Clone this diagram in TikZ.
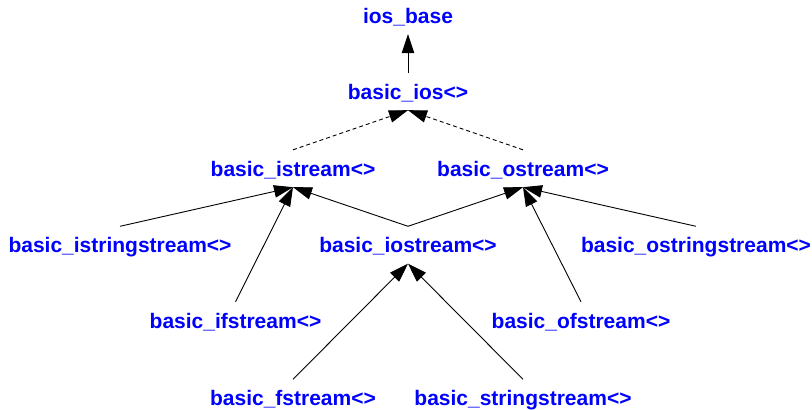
\documentclass[tikz,border=0pt]{standalone}
\usepackage{fontspec}
\setmainfont{Liberation Sans}
\usetikzlibrary{arrows.meta}
\definecolor{clsblue}{RGB}{0,0,255}
\begin{document}
\begin{tikzpicture}[x=1pt,y=-1pt,
  cls/.style={font=\fontsize{21}{25}\selectfont\bfseries, text=clsblue, anchor=base,
    text height=15pt, text depth=0pt, inner xsep=0pt, inner ysep=11pt},
  inh/.style={-{Triangle[length=19pt,width=12.5pt]}, line width=0.9pt, draw=black},
  tmpl/.style={inh, dash pattern=on 4pt off 3pt}]
\useasboundingbox (0,0) rectangle (812,410);
\node[cls] (iosbase) at (408,23) {ios\_base};
\node[cls] (ios) at (408,99) {basic\_ios<>};
\node[cls] (istream) at (293,176) {basic\_istream<>};
\node[cls] (ostream) at (523,176) {basic\_ostream<>};
\node[cls] (isstream) at (120,252.5) {basic\_istringstream<>};
\node[cls] (iostream) at (408,252.5) {basic\_iostream<>};
\node[cls] (osstream) at (696,252.5) {basic\_ostringstream<>};
\node[cls] (ifstream) at (235.5,328) {basic\_ifstream<>};
\node[cls] (ofstream) at (581,328) {basic\_ofstream<>};
\node[cls] (fstream) at (293,405.5) {basic\_fstream<>};
\node[cls] (sstream) at (523,405.5) {basic\_stringstream<>};

\draw[inh] (ios.north) -- (iosbase.south);
\draw[tmpl] (istream.north) -- (ios.south);
\draw[tmpl] (ostream.north) -- (ios.south);
\draw[inh] (isstream.north) -- (istream.south);
\draw[inh] (ifstream.north) -- (istream.south);
\draw[inh] (iostream.north) -- (istream.south);
\draw[inh] (iostream.north) -- (ostream.south);
\draw[inh] (osstream.north) -- (ostream.south);
\draw[inh] (ofstream.north) -- (ostream.south);
\draw[inh] (fstream.north) -- (iostream.south);
\draw[inh] (sstream.north) -- (iostream.south);
\end{tikzpicture}
\end{document}
